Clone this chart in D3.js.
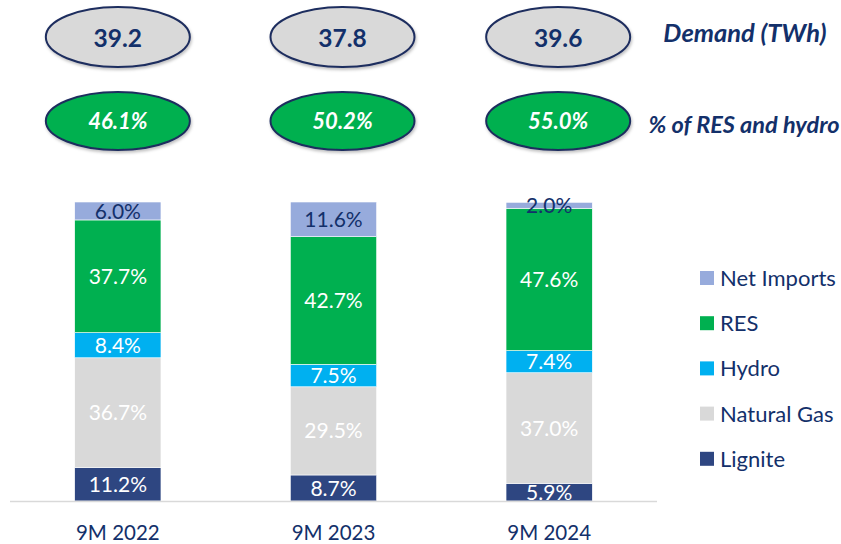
<!DOCTYPE html>
<html>
<head>
<meta charset="utf-8">
<script src="https://cdn.jsdelivr.net/npm/d3@7"></script>
<style>
  body { margin: 0; background: #fff; }
  svg { display: block; font-family: Lato, "Open Sans", sans-serif; }
</style>
</head>
<body>
<div id="chart"></div>
<script>
// --- Data ---
const periods = ["9M 2022", "9M 2023", "9M 2024"];
const sources = ["Lignite", "Natural Gas", "Hydro", "RES", "Net Imports"];
const lignite = [11.2, 8.7, 5.9];
const naturalGas = [36.7, 29.5, 37.0];
const hydro = [8.4, 7.5, 7.4];
const res = [37.7, 42.7, 47.6];
const netImports = [6.0, 11.6, 2.0];
const demand = ["39.2", "37.8", "39.6"];
const resHydroShare = ["46.1%", "50.2%", "55.0%"];

const colors = {
  "Lignite": "#2E4681",
  "Natural Gas": "#D9D9D9",
  "Hydro": "#00B0F0",
  "RES": "#00B050",
  "Net Imports": "#97ABDC"
};
const labelColors = {
  "Lignite": "#fff",
  "Natural Gas": "#fff",
  "Hydro": "#fff",
  "RES": "#fff",
  "Net Imports": "#13306A"
};
const navy = "#13306A";

const width = 841, height = 544;

const rows = periods.map((p, i) => ({
  period: p,
  "Lignite": lignite[i],
  "Natural Gas": naturalGas[i],
  "Hydro": hydro[i],
  "RES": res[i],
  "Net Imports": netImports[i]
}));

const svg = d3.select("#chart").append("svg")
  .attr("width", width)
  .attr("height", height);

const x = d3.scaleBand()
  .domain(periods)
  .range([10, 657])
  .paddingInner(0.6)
  .paddingOuter(0.3);

const y = d3.scaleLinear().domain([0, 100]).range([501, 202]);

const stack = d3.stack().keys(sources);
const series = stack(rows);

// --- Bars ---
const layer = svg.append("g")
  .selectAll("g")
  .data(series)
  .join("g")
  .attr("fill", (d) => colors[d.key]);

layer.selectAll("rect")
  .data((d) => d.map((v) => Object.assign(v, { key: d.key })))
  .join("rect")
  .attr("x", (d) => x(d.data.period))
  .attr("width", x.bandwidth())
  .attr("y", (d) => y(d[1]))
  .attr("height", (d) => y(d[0]) - y(d[1]))
  .attr("stroke", "#fff")
  .attr("stroke-width", 0.6);

// segment labels
layer.selectAll("text")
  .data((d) => d)
  .join("text")
  .attr("x", (d) => x(d.data.period) + x.bandwidth() / 2)
  .attr("y", (d) => (y(d[0]) + y(d[1])) / 2)
  .attr("dy", "0.36em")
  .attr("text-anchor", "middle")
  .attr("font-size", 21)
  .attr("fill", (d) => labelColors[d.key])
  .text((d) => d.data[d.key].toFixed(1) + "%");

// baseline
svg.append("line")
  .attr("x1", 10).attr("x2", 657)
  .attr("y1", 501.5).attr("y2", 501.5)
  .attr("stroke", "#D9D9D9")
  .attr("stroke-width", 1.5);

// x axis labels
const xAxis = svg.append("g")
  .attr("transform", "translate(0,521)")
  .call(d3.axisBottom(x).tickSize(0).tickPadding(4));
xAxis.select(".domain").remove();
xAxis.selectAll("text")
  .attr("font-size", 20.5)
  .attr("font-family", "Lato, 'Open Sans', sans-serif")
  .attr("fill", navy);

// --- Ellipses ---
const defs = svg.append("defs");
const shadow = defs.append("filter").attr("id", "shadow")
  .attr("x", "-20%").attr("y", "-20%").attr("width", "140%").attr("height", "150%");
shadow.append("feDropShadow")
  .attr("dx", 1).attr("dy", 2).attr("stdDeviation", 1.5)
  .attr("flood-color", "#000").attr("flood-opacity", 0.25);

const ovalOffset = [0, 9, 9];
const cx = (p, i) => x(p) + x.bandwidth() / 2 + ovalOffset[i];

const demandG = svg.append("g").selectAll("g")
  .data(periods)
  .join("g");
demandG.append("ellipse")
  .attr("cx", (d, i) => cx(d, i))
  .attr("cy", 37)
  .attr("rx", 72).attr("ry", 30)
  .attr("fill", "#D9D9D9")
  .attr("stroke", "#1F2D5E")
  .attr("stroke-width", 2)
  .attr("filter", "url(#shadow)");
demandG.append("text")
  .attr("x", (d, i) => cx(d, i))
  .attr("y", 38)
  .attr("dy", "0.36em")
  .attr("text-anchor", "middle")
  .attr("font-size", 24.5)
  .attr("font-weight", "bold")
  .attr("fill", navy)
  .text((d, i) => demand[i]);

const shareG = svg.append("g").selectAll("g")
  .data(periods)
  .join("g");
shareG.append("ellipse")
  .attr("cx", (d, i) => cx(d, i))
  .attr("cy", 121)
  .attr("rx", 72).attr("ry", 29)
  .attr("fill", "#00B050")
  .attr("stroke", "#1F2D5E")
  .attr("stroke-width", 2)
  .attr("filter", "url(#shadow)");
shareG.append("text")
  .attr("x", (d, i) => cx(d, i))
  .attr("y", 121)
  .attr("dy", "0.36em")
  .attr("text-anchor", "middle")
  .attr("font-size", 22)
  .attr("font-weight", "bold")
  .attr("font-style", "italic")
  .attr("fill", "#fff")
  .text((d, i) => resHydroShare[i]);

// side titles
svg.append("text")
  .attr("x", 745).attr("y", 33)
  .attr("dy", "0.36em")
  .attr("text-anchor", "middle")
  .attr("font-size", 25.5)
  .attr("font-weight", "bold")
  .attr("font-style", "italic")
  .attr("fill", navy)
  .text("Demand (TWh)");
svg.append("text")
  .attr("x", 744).attr("y", 125)
  .attr("dy", "0.36em")
  .attr("text-anchor", "middle")
  .attr("font-size", 23.5)
  .attr("font-weight", "bold")
  .attr("font-style", "italic")
  .attr("fill", navy)
  .text("% of RES and hydro");

// --- Legend ---
const legendKeys = sources.slice().reverse();
const legend = svg.append("g")
  .selectAll("g")
  .data(legendKeys)
  .join("g")
  .attr("transform", (d, i) => `translate(700,${278 + i * 45.2})`);
legend.append("rect")
  .attr("x", 0).attr("y", -7)
  .attr("width", 14).attr("height", 14)
  .attr("fill", (d) => colors[d]);
legend.append("text")
  .attr("x", 20)
  .attr("dy", "0.36em")
  .attr("font-size", 22)
  .attr("fill", navy)
  .text((d) => d);
</script>
</body>
</html>
